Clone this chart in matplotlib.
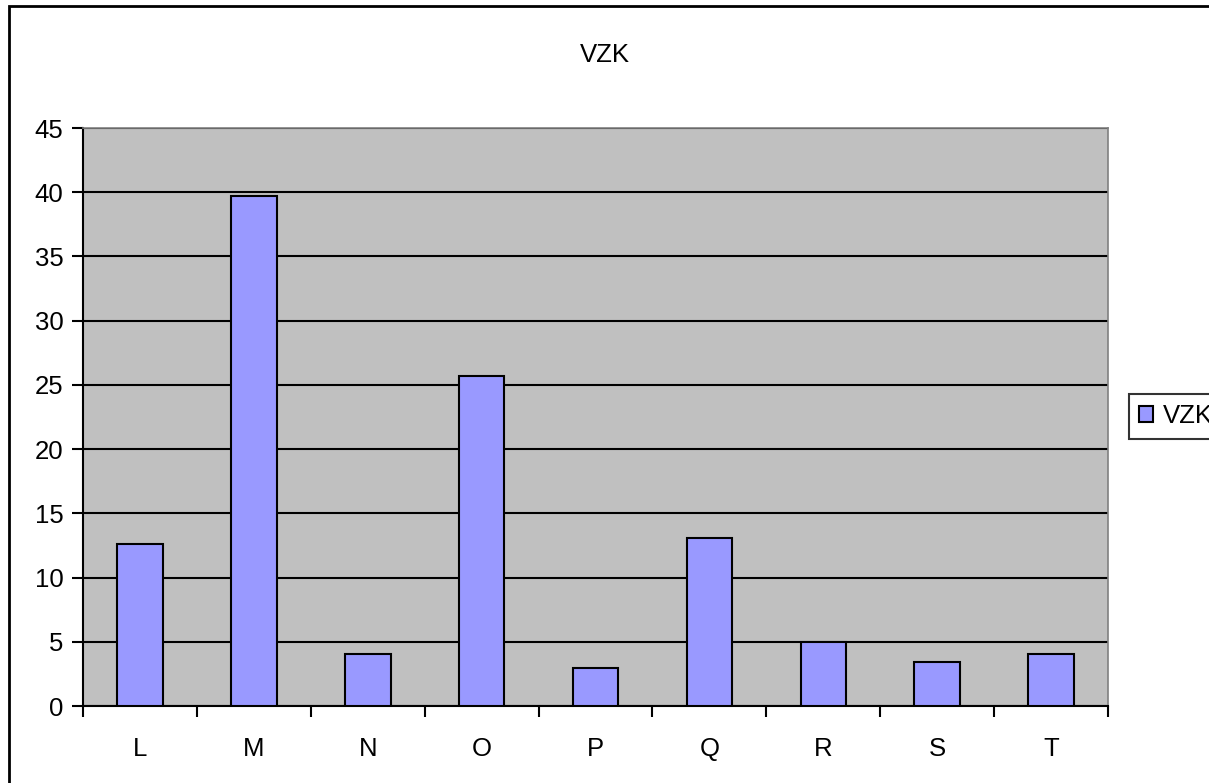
import numpy as np
import matplotlib
matplotlib.use("Agg")
import matplotlib.pyplot as plt
from matplotlib.patches import Rectangle

# data
categories = ["L", "M", "N", "O", "P", "Q", "R", "S", "T"]
vzk = [12.6, 39.7, 4.05, 25.7, 2.95, 13.1, 5.0, 3.45, 4.05]
y_ticks = [0, 5, 10, 15, 20, 25, 30, 35, 40, 45]

W, H = 1209, 783
FS = 18.5
plt.rcParams['font.family'] = ['Liberation Sans', 'DejaVu Sans']

fig = plt.figure(figsize=(W / 100, H / 100), dpi=100)
fig.patch.set_facecolor("white")

# outer chart frame (runs off the right and bottom edges)
fig.patches.append(Rectangle((9 / W, -0.1), 1.2, (H - 6) / H + 0.1,
                             transform=fig.transFigure, fill=False,
                             edgecolor="black", lw=2))

ax = fig.add_axes([83 / W, (H - 706) / H, (1108 - 83) / W, (706 - 128) / H])
ax.set_facecolor("#C0C0C0")

x = np.arange(len(categories))
ax.bar(x, vzk, width=0.4, color="#9999FF", edgecolor="black", lw=1.5,
       label="VZK", zorder=3)

ax.set_ylim(0, 45)
ax.set_xlim(-0.5, len(categories) - 0.5)
ax.set_yticks(y_ticks)
ax.yaxis.grid(True, color="black", lw=1.5, zorder=1)
ax.set_axisbelow(True)

ax.set_xticks(x)
ax.set_xticklabels(categories)
ax.set_xticks(np.arange(-0.5, len(categories)), minor=True)
ax.tick_params(axis="x", which="major", length=0, pad=22, labelsize=FS)
ax.tick_params(axis="x", which="minor", length=8, width=1.5, direction="out")
ax.tick_params(axis="y", length=8, width=1.5, direction="out", pad=6, labelsize=FS)

for s in ["left", "bottom"]:
    ax.spines[s].set_color("black")
    ax.spines[s].set_linewidth(1.5)
for s in ["top", "right"]:
    ax.spines[s].set_color("#808080")
    ax.spines[s].set_linewidth(1.2)

fig.text(605 / W, 1 - 55 / H, "VZK", ha="center", va="center", fontsize=FS)

leg = fig.legend(loc="upper left", bbox_to_anchor=(1129 / W, 1 - 394 / H),
                 fontsize=FS, frameon=True, fancybox=False, shadow=False,
                 handlelength=0.55, handleheight=0.55, handletextpad=0.35,
                 borderpad=0.4, borderaxespad=0)
leg.get_frame().set_edgecolor("black")
leg.get_frame().set_linewidth(1.5)

fig.savefig("out.png", dpi=100)
